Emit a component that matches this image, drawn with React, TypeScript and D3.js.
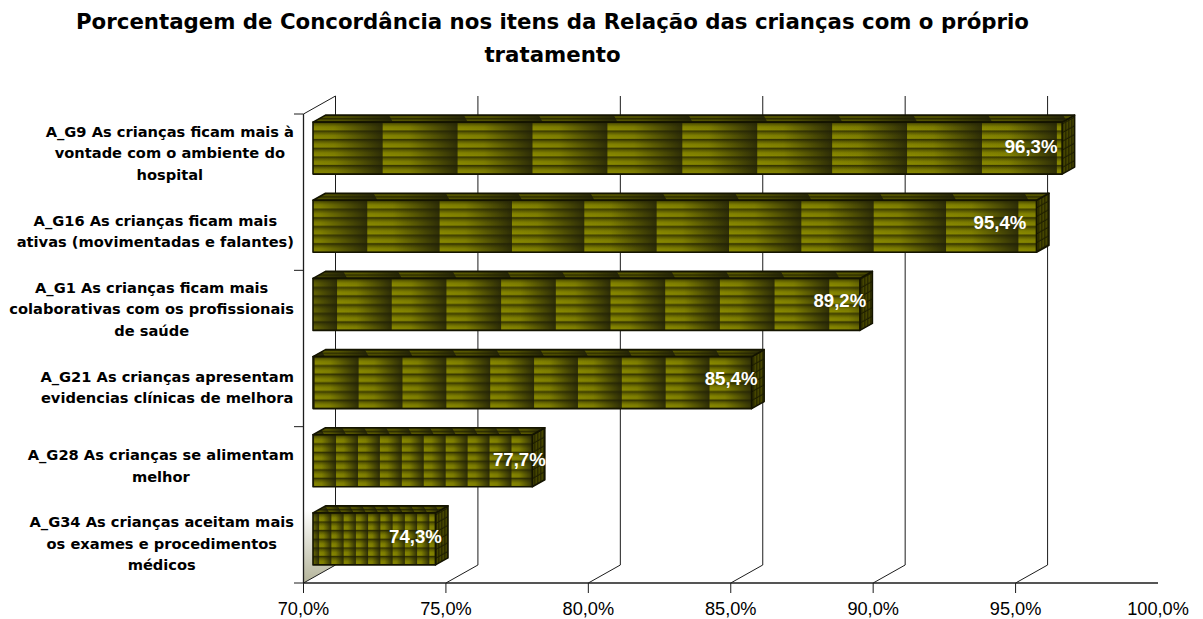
import React from "react";
import * as d3 from "d3";

const categories: string[][] = [
  ["A_G9 As crianças ficam mais à", "vontade com o ambiente do", "hospital"],
  ["A_G16 As crianças ficam mais", "ativas (movimentadas e falantes)"],
  ["A_G1 As crianças ficam mais", "colaborativas com os profissionais", "de saúde"],
  ["A_G21 As crianças apresentam", "evidencias clínicas de melhora"],
  ["A_G28 As crianças se alimentam", "melhor"],
  ["A_G34 As crianças aceitam mais", "os exames e procedimentos", "médicos"],
];
const values = [96.3, 95.4, 89.2, 85.4, 77.7, 74.3];
const axisTicks = [70, 75, 80, 85, 90, 95, 100];
const titleLines = [
  "Porcentagem de Concordância nos itens da Relação das crianças com o próprio",
  "tratamento",
];

// Where the first texture tile ends along each bar, as a fraction of a tile.
const tileLead = [0.93, 0.75, 0.44, 1.04, 1.05, 0.5];
// Hand placement of each value label relative to the bar's front right corner.
const labelShiftX = [-31, -36.5, -20, -20.5, -13, -20];
const labelShiftY = [-2, -4, -4, -4, -1, -2];

const W = 1203;
const H = 619;
const labelFont = "'DejaVu Sans', sans-serif";
const labelSize = 14.65;
const numberFont = "'Liberation Sans', Arial, sans-serif";

const x = d3.scaleLinear().domain([70, 100]).range([303.5, 1158]);
const y = d3.scaleBand<number>().domain(d3.range(values.length)).range([114, 583]);

const wallDx = 32;
const wallDy = -18;
const barInset = 9.5;
const barLift = -5;
const barHeight = 52;
const depthX = 12.5;
const depthY = -7;
const tileCount = 10;

const poly = (pts: number[][]) => pts.map((p) => p.join(",")).join(" ");

const comma = (v: number) => v.toFixed(1).replace(".", ",") + "%";

function blockWidth(lines: string[]) {
  const ctx = document.createElement("canvas").getContext("2d")!;
  ctx.font = `700 ${labelSize}px ${labelFont}`;
  return d3.max(lines, (l) => ctx.measureText(l).width)!;
}

function BarTextures({ i }: { i: number }) {
  const x0 = x(70) + barInset;
  const x1 = x(values[i]) + barInset;
  const tile = (x1 - x0) / tileCount;
  const yTop = y(i)! + y.bandwidth() / 2 - barHeight / 2 + barLift;
  const originX = x0 + tileLead[i] * tile - tile;
  return (
    <>
      <pattern
        id={`front-${i}`}
        patternUnits="userSpaceOnUse"
        x={originX}
        y={yTop}
        width={tile}
        height={barHeight}
      >
        <rect width={tile} height={barHeight} fill="url(#stripes)" />
        <rect width={tile} height={barHeight} fill="url(#shade)" />
      </pattern>
      <pattern
        id={`top-${i}`}
        patternUnits="userSpaceOnUse"
        width={tile}
        height={7}
        patternTransform={`translate(${originX + depthX * 0.5},${yTop + depthY}) skewX(${(Math.atan2(depthX, depthY) * 180) / Math.PI + 90 - 180})`}
      >
        <rect width={tile} height={7} fill="url(#stripesTop)" />
        <rect width={tile} height={7} fill="url(#shade)" />
      </pattern>
    </>
  );
}

function Bar({ i }: { i: number }) {
  const x0 = x(70) + barInset;
  const x1 = x(values[i]) + barInset;
  const yTop = y(i)! + y.bandwidth() / 2 - barHeight / 2 + barLift;
  const yBot = yTop + barHeight;
  const edge = { stroke: "#141400", strokeWidth: 1.6, strokeLinejoin: "round" as const };
  return (
    <g>
      <polygon
        points={poly([[x1, yTop], [x1 + depthX, yTop + depthY], [x1 + depthX, yBot + depthY], [x1, yBot]])}
        fill="url(#side)"
        {...edge}
      />
      <polygon
        points={poly([[x0, yTop], [x0 + depthX, yTop + depthY], [x1 + depthX, yTop + depthY], [x1, yTop]])}
        fill={`url(#top-${i})`}
        {...edge}
      />
      <rect x={x0} y={yTop} width={x1 - x0} height={barHeight} fill={`url(#front-${i})`} {...edge} />
    </g>
  );
}

export default function App() {
  const base = y.range()[1];
  const top = y.range()[0];
  const sideTicks = [0, 2, 4, 6].map((k) => top + k * y.bandwidth());
  return (
    <svg
      width={W}
      height={H}
      viewBox={`0 0 ${W} ${H}`}
      style={{ position: "absolute", left: 0, top: 0, background: "#fff" }}
    >
      <defs>
        <linearGradient id="stripes" gradientUnits="userSpaceOnUse" x1={0} y1={0} x2={0} y2={barHeight / 6} spreadMethod="repeat">
          <stop offset="0" stopColor="#2e2e00" />
          <stop offset="0.22" stopColor="#5c5c00" />
          <stop offset="0.55" stopColor="#828200" />
          <stop offset="0.88" stopColor="#8a8a00" />
          <stop offset="1" stopColor="#4e4e00" />
        </linearGradient>
        <linearGradient id="stripesTop" gradientUnits="userSpaceOnUse" x1={0} y1={0} x2={0} y2={3.5} spreadMethod="repeat">
          <stop offset="0" stopColor="#2c2c00" />
          <stop offset="0.6" stopColor="#5e5e00" />
          <stop offset="1" stopColor="#3c3c00" />
        </linearGradient>
        <linearGradient id="shade" x1="0" y1="0" x2="1" y2="0">
          <stop offset="0" stopColor="#1e1e08" stopOpacity="0" />
          <stop offset="0.35" stopColor="#1e1e08" stopOpacity="0.08" />
          <stop offset="1" stopColor="#1e1e08" stopOpacity="0.85" />
        </linearGradient>
        <pattern id="side" patternUnits="userSpaceOnUse" width={3} height={8.7} patternTransform={`translate(0,0) skewY(-29)`}>
          <rect width={3} height={8.7} fill="#454500" />
          <rect width={1.5} height={8.7} fill="#2c2c00" />
          <rect y={7.4} width={3} height={1.3} fill="#1f1f00" />
        </pattern>
        <linearGradient id="wall" gradientUnits="userSpaceOnUse" x1={0} y1={510} x2={0} y2={583}>
          <stop offset="0" stopColor="#ffffff" />
          <stop offset="1" stopColor="#b4b49a" />
        </linearGradient>
        {values.map((_, i) => (
          <BarTextures key={i} i={i} />
        ))}
      </defs>

      {titleLines.map((line, i) => (
        <text
          key={i}
          x={552.5}
          y={29 + i * 33}
          textAnchor="middle"
          fontFamily={labelFont}
          fontWeight={700}
          fontSize={21.3}
          fill="#000"
        >
          {line}
        </text>
      ))}

      {/* Side wall of the 3D plot box */}
      <polygon
        points={poly([[x(70), top], [x(70) + wallDx, top + wallDy], [x(70) + wallDx, base + wallDy], [x(70), base]])}
        fill="url(#wall)"
      />

      {/* Gridlines run up the back wall and forward across the floor */}
      <g fill="none" stroke="#1c1c1c" strokeWidth={1}>
        {axisTicks.slice(0, -1).map((t) => (
          <polyline
            key={t}
            points={poly([[x(t), base + 10], [x(t), base], [x(t) + wallDx, base + wallDy], [x(t) + wallDx, top + wallDy]])}
          />
        ))}
        <line x1={x(70)} x2={x(70)} y1={top} y2={base} strokeWidth={1.3} />
        <line x1={x(70)} x2={x(70) + wallDx} y1={top} y2={top + wallDy} />
        <line x1={x(70)} x2={x(100)} y1={base} y2={base} strokeWidth={1.3} />
        {sideTicks.map((t) => (
          <line key={t} x1={x(70) - 9.5} x2={x(70)} y1={t} y2={t} />
        ))}
      </g>

      {values.map((_, i) => (
        <Bar key={i} i={i} />
      ))}

      {values.map((v, i) => (
        <text
          key={i}
          x={x(v) + barInset + labelShiftX[i]}
          y={y(i)! + y.bandwidth() / 2 + barLift + 6.5 + labelShiftY[i]}
          textAnchor="middle"
          fontFamily={numberFont}
          fontWeight={700}
          fontSize={18.6}
          fill="#ffffff"
        >
          {comma(v)}
        </text>
      ))}

      {categories.map((lines, i) => {
        const cx = 294 - blockWidth(lines) / 2;
        const cy = y(i)! + y.bandwidth() / 2;
        const start = cy - ((lines.length - 1) * 21.5) / 2 + 5;
        return (
          <text
            key={i}
            textAnchor="middle"
            fontFamily={labelFont}
            fontWeight={700}
            fontSize={labelSize}
            fill="#000"
          >
            {lines.map((l, k) => (
              <tspan key={k} x={cx} y={start + k * 21.5}>
                {l}
              </tspan>
            ))}
          </text>
        );
      })}

      {axisTicks.map((t) => (
        <text
          key={t}
          x={x(t)}
          y={615}
          textAnchor="middle"
          fontFamily={numberFont}
          fontSize={18.2}
          fill="#000"
        >
          {comma(t)}
        </text>
      ))}
    </svg>
  );
}
